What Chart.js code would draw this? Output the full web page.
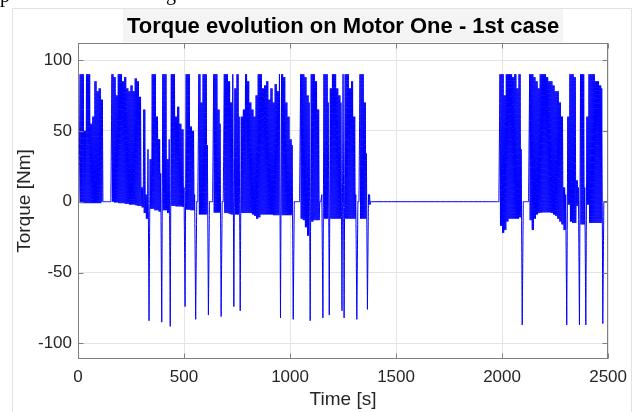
<!DOCTYPE html>
<html>
<head>
<meta charset="utf-8">
<script src="https://cdn.jsdelivr.net/npm/chart.js@4.4.1/dist/chart.umd.min.js"></script>
<style>
  html, body { margin: 0; padding: 0; background: #ffffff; }
  #wrap { width: 635px; height: 412px; position: relative; }
</style>
</head>
<body>
<div id="wrap"><canvas id="c" width="635" height="412"></canvas></div>
<script>
// ---- Data (10 s bins: upper / lower envelope of the torque trace) ----
const chartTitle = 'Torque evolution on Motor One - 1st case';
const xAxisLabel = 'Time [s]';
const yAxisLabel = 'Torque [Nm]';
const xTicks = [0, 500, 1000, 1500, 2000, 2500];
const yTicks = [-100, -50, 0, 50, 100];

const timeS = [
  0,10,20,30,40,50,60,70,80,90,
  100,110,120,130,140,150,160,170,180,190,
  200,210,220,230,240,250,260,270,280,290,
  300,310,320,330,340,350,360,370,380,390,
  400,410,420,430,440,450,460,470,480,490,
  500,510,520,530,540,550,560,570,580,590,
  600,610,620,630,640,650,660,670,680,690,
  700,710,720,730,740,750,760,770,780,790,
  800,810,820,830,840,850,860,870,880,890,
  900,910,920,930,940,950,960,970,980,990,
  1000,1010,1020,1030,1040,1050,1060,1070,1080,1090,
  1100,1110,1120,1130,1140,1150,1160,1170,1180,1190,
  1200,1210,1220,1230,1240,1250,1260,1270,1280,1290,
  1300,1310,1320,1330,1340,1350,1360,1370,1380,
  1980,1990,2000,2010,2020,2030,2040,2050,2060,2070,
  2080,2090,2100,2110,2120,2130,2140,2150,2160,2170,
  2180,2190,2200,2210,2220,2230,2240,2250,2260,2270,
  2280,2290,2300,2310,2320,2330,2340,2350,2360,2370,
  2380,2390,2400,2410,2420,2430,2440,2450,2460,2470,
  2480,2490,2500
];
const upperNm = [
  0,90,90,50,90,90,55,60,85,78,
  80,72,0,0,0,0,90,88,75,90,
  90,85,88,80,78,82,78,87,85,74,
  10,65,5,37,30,90,90,60,44,20,
  90,90,30,44,90,90,60,67,55,51,
  10,90,90,53,50,5,0,90,70,90,
  90,40,0,0,90,90,65,55,0,90,
  90,85,70,90,80,90,60,60,65,90,
  85,70,65,60,75,90,90,80,82,85,
  72,80,70,83,78,90,90,88,70,60,
  44,40,0,0,0,90,90,88,75,70,
  90,90,85,65,0,5,90,90,70,80,
  90,90,80,75,70,90,90,90,80,85,
  60,5,0,90,90,70,34,5,0,
  0,90,90,75,90,90,90,88,90,80,
  90,37,0,0,0,90,90,88,85,80,
  90,90,90,88,85,85,82,78,78,70,
  60,10,5,60,90,90,88,15,10,90,
  90,10,60,90,90,90,85,85,82,80,
  0,0,0
];
const lowerNm = [
  0,-1,-1,-1,-1,-1,-1,-1,-1,-1,
  -1,0,0,0,0,0,0,-0.5,-0.5,-1,
  -1,-1,-1.5,-1.5,-2,-2,-2,-2.5,-3,-3,
  -4,-8,-12,-84,-5,-5,-6,-6,-7,-85,
  -6,-6,-8,-88,-3,-3,-3.3,-3.3,-3.3,-3.5,
  -74,-5.6,-5.6,-6,-6,-83,0,-9,-9,-9,
  -9,-80,0,0,-7.7,-7.7,-7.7,-81,0,-8,
  -8,-8.5,-9,-74,-9,-9,-77,-8,-8,-8,
  -8,-8,-9,-10,-12,-11,-9,-9,-9,-9,
  -9,-9,-9.5,-9.5,-9.5,-82,-9.5,-9.5,-9.5,-9.5,
  -9.5,-83,0,0,0,-12,-13,-18,-24,-84,
  -14,-13,-13,-13,0,-82,-12,-12,-80,-12,
  -12,-12,-12,-12,-77,-82,-12,-12,-12,-12,
  -12,-83,0,-12,-12,-12,-76,-2,0,
  0,-17,-22,-20,-14,-12,-12,-12,-12,-12,
  -11,-87,0,0,0,-13,-20,-12,-9,-8,
  -7.7,-7.5,-7.5,-7.5,-7.5,-8,-9,-10,-12,-14,
  -16,-20,-87,-2,-14,-15,-15,-3,-87,-16,
  -16,-87,-2,-15,-15,-15,-15,-15,-15,-86,
  0,0,0
];

// Build the trace: inside each bin the signal oscillates between its max and min.
// Bins holding an isolated deep braking spike are drawn as a single excursion.
const trace = [];
for (let i = 0; i < timeS.length; i++) {
  const t = timeS[i], u = upperNm[i], l = lowerNm[i];
  if (i === timeS.length - 1) { trace.push({ x: t, y: u }); break; }
  if (l < -40 || (u === 0 && l === 0)) {
    trace.push({ x: t, y: u }, { x: t + 5, y: l });
  } else {
    trace.push({ x: t, y: u }, { x: t + 2.5, y: l }, { x: t + 5, y: u }, { x: t + 7.5, y: l });
  }
}

const FONT = '"Liberation Sans", Arial, Helvetica, sans-serif';
Chart.defaults.font.family = FONT;

const decorPlugin = {
  id: 'decor',
  afterLayout(chart) {
    const tb = chart.titleBlock, ca = chart.chartArea;
    if (tb) { tb.left = ca.left; tb.right = ca.right; tb.width = ca.right - ca.left; }
  },
  beforeDraw(chart) {
    const ctx = chart.ctx, ca = chart.chartArea;
    ctx.save();
    ctx.fillStyle = '#ffffff';
    ctx.fillRect(0, 0, chart.width, chart.height);
    // page fragments above the figure
    ctx.fillStyle = '#000';
    ctx.font = '20px "Liberation Serif", serif';
    ctx.textBaseline = 'alphabetic';
    ctx.fillText('p', 0, 2);
    ctx.fillText('g', 166, 0);
    // figure frame
    ctx.strokeStyle = '#e2e2e2';
    ctx.lineWidth = 1;
    ctx.beginPath();
    ctx.moveTo(12.5, chart.height); ctx.lineTo(12.5, 8.5);
    ctx.lineTo(631.5, 8.5); ctx.lineTo(631.5, chart.height);
    ctx.stroke();
    // title background
    ctx.font = 'bold 22px ' + FONT;
    const w = ctx.measureText(chartTitle).width;
    const cx = (ca.left + ca.right) / 2;
    ctx.fillStyle = '#f4f4f4';
    ctx.fillRect(Math.round(cx - w / 2 - 4), 9, Math.round(w + 8), ca.top - 10);
    ctx.restore();
  },
  afterDatasetsDraw(chart) {
    const ctx = chart.ctx, ca = chart.chartArea;
    const xs = chart.scales.x, ys = chart.scales.y;
    const L = Math.round(ca.left) + 0.5, R = Math.round(ca.right) - 0.5;
    const T = Math.round(ca.top) + 0.5, B = Math.round(ca.bottom) - 0.5;
    ctx.save();
    ctx.strokeStyle = '#808080';
    ctx.lineWidth = 1;
    ctx.strokeRect(L, T, R - L, B - T);
    ctx.beginPath();
    xTicks.forEach(v => {
      const p = Math.round(xs.getPixelForValue(v)) + 0.5;
      ctx.moveTo(p, B); ctx.lineTo(p, B - 5);
      ctx.moveTo(p, T); ctx.lineTo(p, T + 5);
    });
    yTicks.forEach(v => {
      const p = Math.round(ys.getPixelForValue(v)) + 0.5;
      ctx.moveTo(L, p); ctx.lineTo(L + 5, p);
      ctx.moveTo(R, p); ctx.lineTo(R - 5, p);
    });
    ctx.stroke();
    ctx.restore();
  }
};

new Chart(document.getElementById('c'), {
  type: 'line',
  data: {
    datasets: [{
      data: trace,
      borderColor: '#0000ff',
      borderWidth: 1,
      pointRadius: 0,
      tension: 0.000001,
      fill: false
    }]
  },
  options: {
    responsive: false,
    animation: false,
    devicePixelRatio: 1,
    layout: { padding: { left: 0, right: 24, top: 0, bottom: 0 } },
    plugins: {
      legend: { display: false },
      tooltip: { enabled: false },
      title: {
        display: true,
        text: chartTitle,
        color: '#000000',
        font: { family: FONT, size: 22, weight: 'bold', lineHeight: 1.2 },
        padding: { top: 14, bottom: 2.6 }
      }
    },
    scales: {
      x: {
        type: 'linear',
        min: 0, max: 2500,
        afterBuildTicks: s => { s.ticks = xTicks.map(v => ({ value: v })); },
        afterFit: s => { s.height = 53; },
        ticks: { color: '#262626', font: { size: 17 }, padding: 8, maxRotation: 0, autoSkip: false, callback: v => String(v) },
        grid: { color: '#e4e4e4', drawTicks: false, lineWidth: 1 },
        border: { display: false },
        title: { display: true, text: xAxisLabel, color: '#262626', font: { size: 19, lineHeight: 1.2 }, padding: { top: 0, bottom: 1 } }
      },
      y: {
        type: 'linear',
        min: -111, max: 112,
        afterBuildTicks: s => { s.ticks = yTicks.map(v => ({ value: v })); },
        afterFit: s => { s.width = 78; },
        ticks: { color: '#262626', font: { size: 17 }, padding: 6, autoSkip: false, callback: v => String(v) },
        grid: { color: '#e4e4e4', drawTicks: false, lineWidth: 1 },
        border: { display: false },
        title: { display: true, text: yAxisLabel, color: '#262626', font: { size: 19, lineHeight: 1.2 }, padding: { top: 13, bottom: 0 } }
      }
    }
  },
  plugins: [decorPlugin]
});
</script>
</body>
</html>
